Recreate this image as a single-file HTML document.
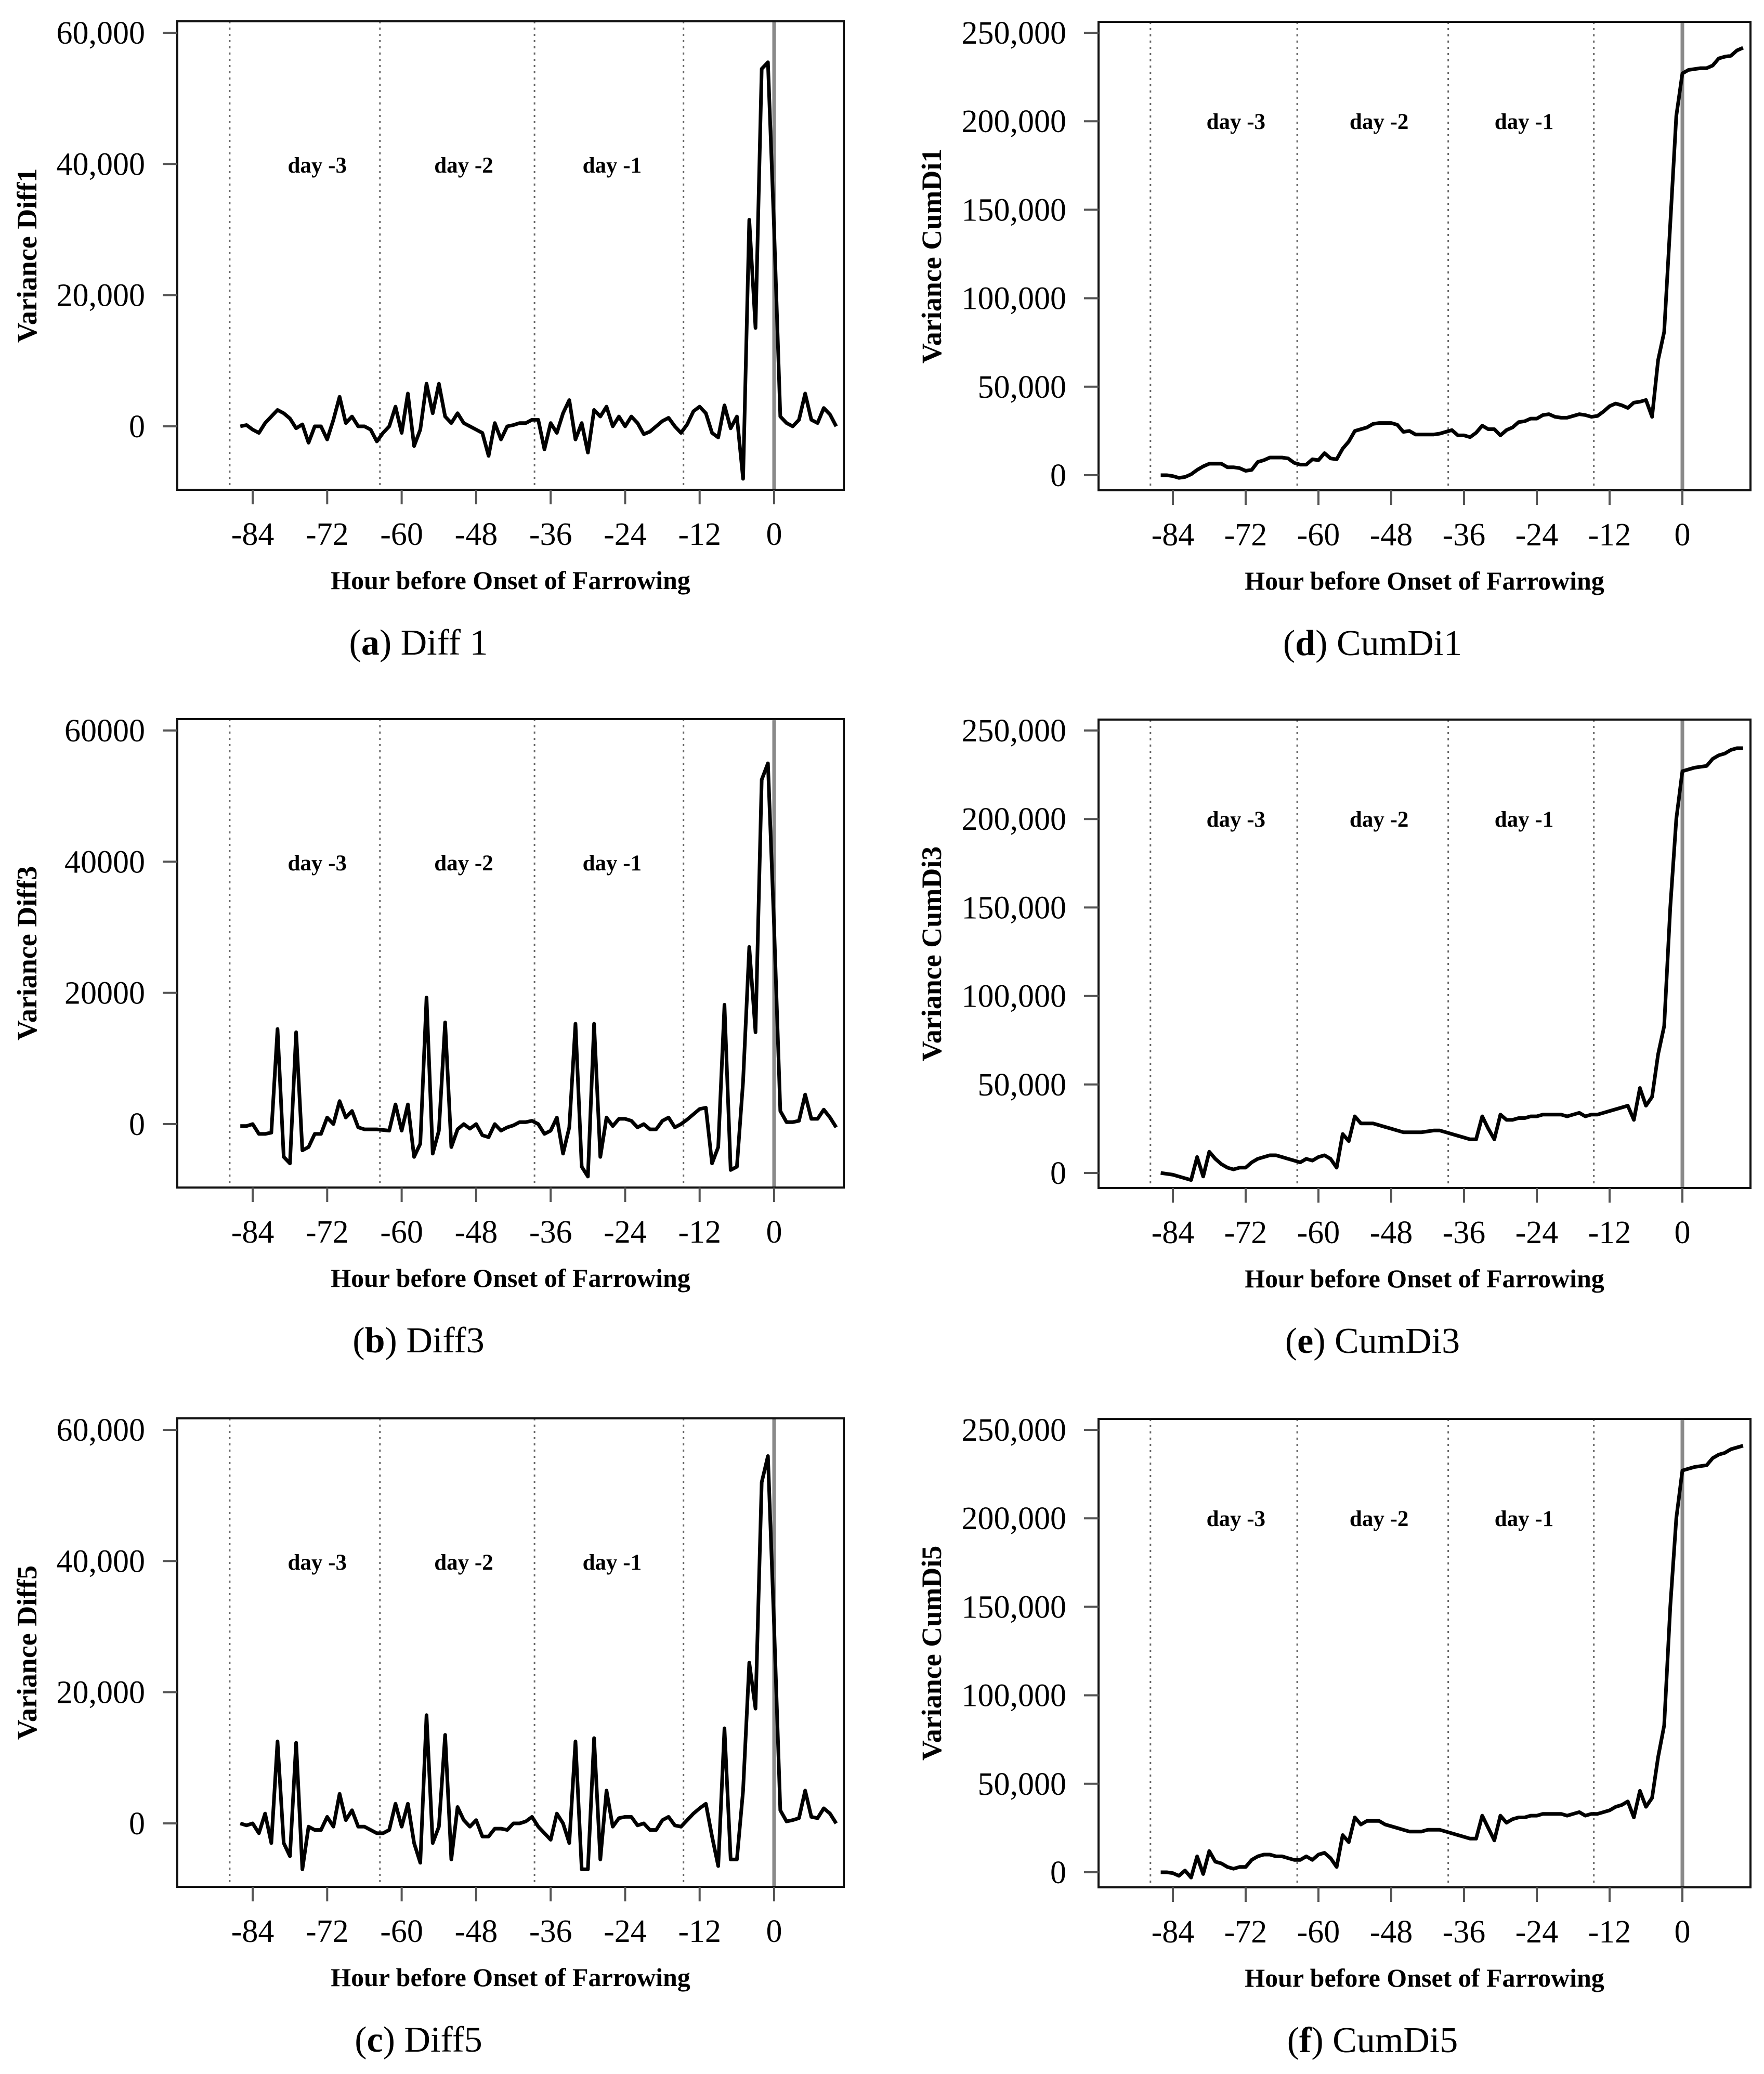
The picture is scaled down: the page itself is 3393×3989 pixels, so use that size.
<!DOCTYPE html>
<html><head><meta charset="utf-8"><style>
html,body{margin:0;padding:0;background:#fff;}
svg{display:block;}
</style></head><body>
<svg id="fig" xmlns="http://www.w3.org/2000/svg" width="3393" height="3989" viewBox="0 0 3393 3989"></svg>
<script>
const hours = [];
for (let h = -86; h <= 10; h++) hours.push(h);
const xTicks = [-84,-72,-60,-48,-36,-24,-12,0];
const dayLines = [-87.7,-63.5,-38.6,-14.6];
const dayLabels = ["day -3","day -2","day -1"];
const dayLabelHours = [-73.6,-50,-26.1];
const leftTickVals = [0,20000,40000,60000];
const leftTickLabelsComma = ["0","20,000","40,000","60,000"];
const leftTickLabelsPlain = ["0","20000","40000","60000"];
const rightTickVals = [0,50000,100000,150000,200000,250000];
const rightTickLabels = ["0","50,000","100,000","150,000","200,000","250,000"];

// values in thousands
const diff1 = [0,0.2,-0.5,-1,0.5,1.5,2.5,2,1.2,-0.3,
0.3,-2.5,0,0,-2,1,4.5,0.5,1.5,0,
0,-0.5,-2.3,-1,0,3,-1,5,-3,-0.5,
6.5,2,6.5,1.5,0.5,2,0.5,0,-0.5,-1,
-4.5,0.5,-2,0,0.2,0.5,0.5,1,1,-3.5,
0.5,-1,2,4,-2,0.5,-4,2.5,1.5,3,
0,1.5,0,1.5,0.5,-1.2,-0.8,0,0.8,1.3,
0,-1,0.3,2.3,3,2,-1,-1.7,3.2,-0.3,
1.5,-8,31.5,15,54.5,55.5,30,1.5,0.5,0,
1,5,1,0.5,2.8,1.8,0];
const diff3 = [-0.3,-0.3,0,-1.5,-1.5,-1.3,14.5,-5,-6,14,
-4,-3.5,-1.5,-1.5,1,0,3.5,1,2,-0.5,
-0.8,-0.8,-0.8,-0.9,-1,3,-1,3,-5,-3,
19.3,-4.5,-1,15.5,-3.5,-0.8,0,-0.7,0,-1.7,
-2,0,-1,-0.5,-0.2,0.3,0.3,0.5,0,-1.5,
-1,1,-4.5,-0.5,15.3,-6.5,-8,15.3,-5,1,
-0.3,0.8,0.8,0.5,-0.5,0,-0.8,-0.8,0.5,1,
-0.5,0,0.7,1.5,2.3,2.5,-6,-3.5,18.2,-7,
-6.5,6.5,27,14,52.5,55,30,2,0.3,0.3,
0.5,4.5,0.8,0.8,2.2,1,-0.5];
const diff5 = [0,-0.3,0,-1.5,1.5,-3,12.5,-3,-5,12.3,
-7,-0.5,-1,-1,1,-0.5,4.5,0.5,2,-0.5,
-0.5,-1,-1.5,-1.5,-1,3,-0.5,3,-3,-6,
16.5,-3,-0.5,13.5,-5.5,2.5,0.5,-0.5,0.5,-2,
-2,-0.8,-0.8,-1,0,0,0.3,1,-0.5,-1.5,
-2.5,1.5,0,-3,12.5,-7,-7,13,-5.5,5,
-0.5,0.8,1,1,-0.3,0,-1,-1,0.5,1,
-0.3,-0.5,0.5,1.5,2.3,3,-2,-6.5,14.5,-5.5,
-5.5,5,24.5,17.5,52,56,30,2,0.3,0.5,
0.8,5,1,0.8,2.3,1.5,0];
const cum1 = [0,0,-0.5,-1.5,-1,0.5,3,5,6.5,6.5,
6.5,4.5,4.5,4,2.5,3,7.5,8.5,10,10,
10,9.5,7,6,6,9,8.5,12.5,9.5,9,
15,19,25,26,27,29,29.5,29.5,29.5,28.5,
24.5,25,23,23,23,23,23.5,24.5,25.5,22.5,
22.5,21.5,24,28,26,26,22.5,25.5,27,30,
30.5,32,32,34,34.5,33,32.5,32.5,33.5,34.5,
34,33,33.5,36,39,40.5,39.5,38,41,41.5,
42.5,33,65,81,142,203,227,229,229.5,230,
230,231.5,235.5,236.5,237,240,241.5];
const cum3 = [0,-0.5,-1,-2,-3,-4,9,-2,12,8,
5,3,2,3,3,6,8,9,10,10,
9,8,7,6,8,7,9,10,8,3,
22,18,32,28,28,28,27,26,25,24,
23,23,23,23,23.5,24,24,23,22,21,
20,19,19,32,25,19,33,30,30,31,
31,32,32,33,33,33,33,32,33,34,
32,33,33,34,35,36,37,38,30,48,
38,43,67,83,150,200,227,228,229,229.5,
230,234,236,237,239,240,240];
const cum5 = [0,0,-0.5,-2,1,-3,9,-1,12,6,
5,3,2,3,3,7,9,10,10,9,
9,8,7,7,9,7,10,11,8,3,
21,17,31,27,29,29,29,27,26,25,
24,23,23,23,24,24,24,23,22,21,
20,19,19,32,25,18,32,28,30,31,
31,32,32,33,33,33,33,32,33,34,
32,33,33,34,35,37,38,40,31,46,
37,42,65,83,150,200,227,228,229,229.5,
230,234,236,237,239,240,241];

const NS = "http://www.w3.org/2000/svg";
const svg = document.getElementById('fig');
function mk(tag, attrs, parent){
  const e = document.createElementNS(NS, tag);
  for (const k in attrs) e.setAttribute(k, attrs[k]);
  (parent||svg).appendChild(e);
  return e;
}

const panels = [
 {id:'a', side:'L', top:41, vals:diff1, ytitle:'Variance Diff1', tl:leftTickLabelsComma, cap:'a', capText:' Diff 1'},
 {id:'b', side:'L', top:1383, vals:diff3, ytitle:'Variance Diff3', tl:leftTickLabelsPlain, cap:'b', capText:' Diff3'},
 {id:'c', side:'L', top:2728, vals:diff5, ytitle:'Variance Diff5', tl:leftTickLabelsComma, cap:'c', capText:' Diff5'},
 {id:'d', side:'R', top:42, vals:cum1, ytitle:'Variance CumDi1', tl:rightTickLabels, cap:'d', capText:' CumDi1'},
 {id:'e', side:'R', top:1384, vals:cum3, ytitle:'Variance CumDi3', tl:rightTickLabels, cap:'e', capText:' CumDi3'},
 {id:'f', side:'R', top:2729, vals:cum5, ytitle:'Variance CumDi5', tl:rightTickLabels, cap:'f', capText:' CumDi5'}
];

panels.forEach(p => {
  const L = p.side === 'L';
  const box = L ? {x0:341, x1:1623} : {x0:2113, x1:3367};
  const y0 = p.top, y1 = p.top + 901;
  const zeroX = L ? 1489 : 3236, pxH = L ? 11.94 : 11.667;
  const xs = h => zeroX + h * pxH;
  const tickVals = L ? leftTickVals : rightTickVals;
  const yTopVal = L ? 60000 : 250000;
  const yTopPix = p.top + (L ? 22 : 21), yZeroPix = p.top + (L ? 779 : 872);
  const ys = v => yZeroPix - (v / yTopVal) * (yZeroPix - yTopPix);

  const g = mk('g', {});
  
  

  dayLines.forEach((d, i) => {
    const l = mk('line', {x1:xs(d), x2:xs(d), y1:y0, y2:y1, stroke:'#666', 'stroke-width':3, 'stroke-dasharray':'4,8'}, g);
    
    
  });
  const zl = mk('line', {x1:xs(0), x2:xs(0), y1:y0, y2:y1, stroke:'#8a8a8a', 'stroke-width':7}, g);
  
  

  const dayY = p.top + (L ? 276 : 191);
  dayLabels.forEach((t, i) => {
    const cx = xs(dayLabelHours[i]);
    const tx = mk('text', {x:cx, y:dayY + 15, 'text-anchor':'middle', 'font-family':'"Liberation Serif", serif', 'font-weight':'bold', 'font-size':43}, g);
    tx.textContent = t;
    
    
  });

  const pts = hours.map((h, i) => xs(h).toFixed(1) + ',' + ys(p.vals[i] * 1000).toFixed(1)).join(' ');
  const pl = mk('polyline', {points:pts, fill:'none', stroke:'#000', 'stroke-width':7, 'stroke-linejoin':'round'}, g);
  
  

  const r = mk('rect', {x:box.x0, y:y0, width:box.x1-box.x0, height:y1-y0, fill:'none', stroke:'#111', 'stroke-width':4}, g);
  
  

  tickVals.forEach((v, i) => {
    const yy = ys(v);
    const tk = mk('line', {x1:box.x0-28, x2:box.x0, y1:yy, y2:yy, stroke:'#555', 'stroke-width':4}, g);
    
    
    const t = mk('text', {x:box.x0-62, y:yy+21, 'text-anchor':'end', 'font-family':'"Liberation Serif", serif', 'font-size':62}, g);
    t.textContent = p.tl[i];
    
    
  });
  xTicks.forEach(v => {
    const xx = xs(v);
    const tk = mk('line', {x1:xx, x2:xx, y1:y1, y2:y1+28, stroke:'#555', 'stroke-width':4}, g);
    
    
    const t = mk('text', {x:xx, y:p.top+1007, 'text-anchor':'middle', 'font-family':'"Liberation Serif", serif', 'font-size':62}, g);
    t.textContent = String(v);
    
    
  });

  const ytx = L ? 70 : 1810, ymid = (y0 + y1) / 2;
  const yt = mk('text', {x:ytx, y:ymid, 'text-anchor':'middle', transform:'rotate(-90 ' + ytx + ' ' + ymid + ')', 'font-family':'"Liberation Serif", serif', 'font-weight':'bold', 'font-size':54}, g);
  yt.textContent = p.ytitle;
  
  

  const xcx = L ? 982 : 2740;
  const xt = mk('text', {x:xcx, y:p.top+1092, 'text-anchor':'middle', 'font-family':'"Liberation Serif", serif', 'font-weight':'bold', 'font-size':50}, g);
  xt.textContent = 'Hour before Onset of Farrowing';
  
  

  const ccx = L ? 805 : 2640;
  const ct = mk('text', {x:ccx, y:p.top+1218, 'text-anchor':'middle', 'font-family':'"Liberation Serif", serif', 'font-size':70}, g);
  
  
  const s1 = mk('tspan', {}, ct); s1.textContent = '(';
  const s2 = mk('tspan', {'font-weight':'bold'}, ct); s2.textContent = p.cap;
  const s3 = mk('tspan', {}, ct); s3.textContent = ')' + p.capText;
});
</script>
</body></html>
